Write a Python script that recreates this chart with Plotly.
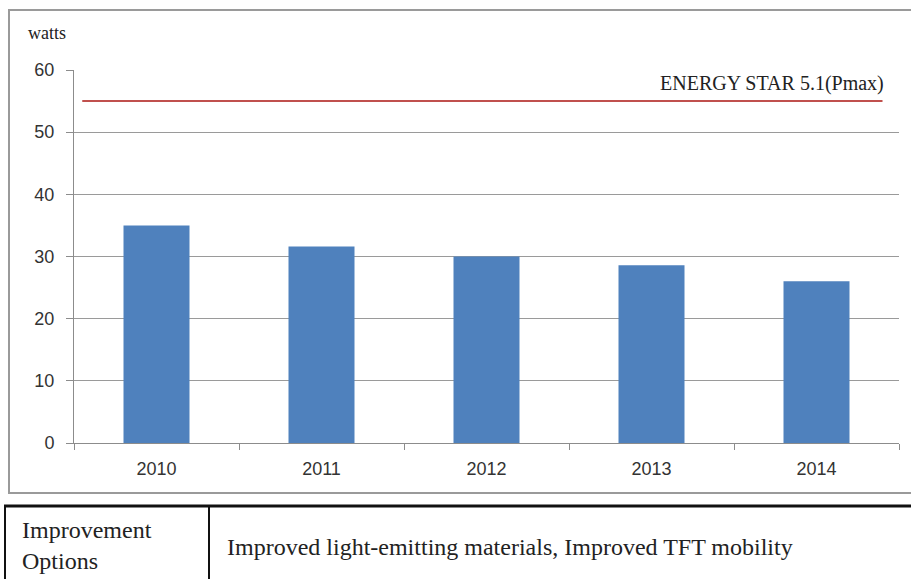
import plotly.graph_objects as go

years = ["2010", "2011", "2012", "2013", "2014"]
watts = [35.0, 31.6, 30.0, 28.6, 26.0]
energy_star_label = "ENERGY STAR 5.1(Pmax)"
energy_star_value = 55
energy_star_span = [-0.45, 4.4]
y_ticks = [0, 10, 20, 30, 40, 50, 60]
table_left = "Improvement<br>Options"
table_right = "Improved light-emitting materials, Improved TFT mobility"

W, H = 911, 579
L, R, T, B = 74, 899, 70, 443

def px(x):
    return (x - L) / (R - L)

def py(y):
    return (B - y) / (B - T)

xs = list(range(len(years)))

fig = go.Figure()
fig.add_trace(go.Bar(x=xs, y=watts, width=0.4, marker=dict(color="#4f81bd", line=dict(width=0)),
                     showlegend=False, hoverinfo="y"))
fig.add_trace(go.Scatter(x=energy_star_span, y=[energy_star_value] * 2, mode="lines",
                         line=dict(color="#c0504d", width=2), showlegend=False))

serif = "Liberation Serif"
sans = "Liberation Sans"

fig.update_layout(
    width=W, height=H,
    margin=dict(l=L, r=W - R, t=T, b=H - B),
    paper_bgcolor="white", plot_bgcolor="white",
    xaxis=dict(range=[-0.5, 4.5], tickvals=xs, ticktext=years, ticks="",
               showgrid=False, zeroline=False, showline=True, linecolor="#8c8c8c", linewidth=1,
               tickfont=dict(family=sans, size=18, color="#333"), ticklabelstandoff=9,
               minor=dict(tickvals=[-0.5, 0.5, 1.5, 2.5, 3.5, 4.5], ticks="outside", ticklen=6,
                          tickcolor="#8c8c8c", showgrid=False),
               fixedrange=True),
    yaxis=dict(range=[0, 60], tickvals=y_ticks, ticks="outside", ticklen=7, tickcolor="#8c8c8c",
               showgrid=True, gridcolor="#9a9a9a", gridwidth=1, zeroline=False,
               showline=True, linecolor="#8c8c8c", linewidth=1, ticklabelstandoff=8,
               tickfont=dict(family=sans, size=18, color="#333"), fixedrange=True),
    shapes=[
        dict(type="rect", xref="paper", yref="paper", x0=px(9), x1=px(912), y0=py(493), y1=py(10),
             line=dict(color="#9a9a9a", width=2), fillcolor="rgba(0,0,0,0)", layer="below"),
        dict(type="line", xref="paper", yref="paper", x0=px(4), x1=px(915), y0=py(506), y1=py(506),
             line=dict(color="#111", width=3)),
        dict(type="line", xref="paper", yref="paper", x0=px(5), x1=px(5), y0=py(506), y1=py(600),
             line=dict(color="#111", width=2)),
        dict(type="line", xref="paper", yref="paper", x0=px(209), x1=px(209), y0=py(506), y1=py(600),
             line=dict(color="#111", width=2)),
    ],
    annotations=[
        dict(text="watts", xref="paper", yref="paper", x=px(26), y=py(33), xanchor="left", yanchor="middle",
             showarrow=False, font=dict(family=serif, size=18, color="#222")),
        dict(text=energy_star_label, xref="paper", yref="paper", x=px(886), y=py(83), xanchor="right",
             yanchor="middle", showarrow=False, font=dict(family=serif, size=20, color="#222")),
        dict(text=table_left, xref="paper", yref="paper", x=px(20), y=py(545), xanchor="left",
             yanchor="middle", align="left", showarrow=False, font=dict(family=serif, size=24, color="#222")),
        dict(text=table_right, xref="paper", yref="paper", x=px(225), y=py(547), xanchor="left",
             yanchor="middle", showarrow=False, font=dict(family=serif, size=24, color="#222")),
    ],
)

fig.write_html("out.html", config={"displayModeBar": False},
               post_script="document.body.style.margin='0';document.body.style.overflow='hidden';")
